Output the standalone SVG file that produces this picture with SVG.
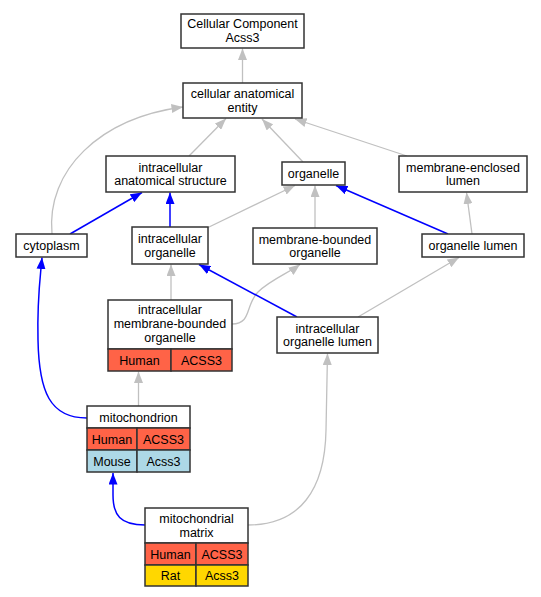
<svg xmlns="http://www.w3.org/2000/svg" width="541" height="597" viewBox="0 0 541 597">
<style>
text{font-family:"Liberation Sans",Arial,sans-serif;font-size:12.5px;text-anchor:middle;fill:#000}
.n{fill:#fff;stroke:#333;stroke-width:1.5}
.h{fill:#ff6347;stroke:#333;stroke-width:1.5}
.m{fill:#add8e6;stroke:#333;stroke-width:1.5}
.r{fill:#ffd700;stroke:#333;stroke-width:1.5}
.g{fill:none;stroke:#c0c0c0;stroke-width:1.3}
.b{fill:none;stroke:#0000ff;stroke-width:1.5}
</style>
<defs>
<marker id="ag" markerUnits="userSpaceOnUse" markerWidth="12" markerHeight="9" refX="11.5" refY="4.5" orient="auto"><path d="M0,0 L11.5,4.5 L0,9 z" fill="#c0c0c0"/></marker>
<marker id="ab" markerUnits="userSpaceOnUse" markerWidth="12" markerHeight="9" refX="11.5" refY="4.5" orient="auto"><path d="M0,0 L11.5,4.5 L0,9 z" fill="#0000ff"/></marker>
</defs>
<rect width="541" height="597" fill="#fff"/>
<g id="edges">
<path class="g" marker-end="url(#ag)" d="M242.5,83 L242.5,48.5"/>
<path class="g" marker-end="url(#ag)" d="M189,156 L226,118.5"/>
<path class="g" marker-end="url(#ag)" d="M303,162 L262,119"/>
<path class="g" marker-end="url(#ag)" d="M407,156 L295,119"/>
<path class="g" marker-end="url(#ag)" d="M52,234 C46,170 100,118 183,107"/>
<path class="b" marker-end="url(#ab)" d="M70,234 L142,192.5"/>
<path class="b" marker-end="url(#ab)" d="M170,227 L170,192.5"/>
<path class="g" marker-end="url(#ag)" d="M207,228 L295,185.5"/>
<path class="g" marker-end="url(#ag)" d="M315,228 L315,185.5"/>
<path class="b" marker-end="url(#ab)" d="M448,234 L336,185.5"/>
<path class="g" marker-end="url(#ag)" d="M472,234 L466.5,192.5"/>
<path class="g" marker-end="url(#ag)" d="M171,300 L171,264.5"/>
<path class="g" marker-end="url(#ag)" d="M232,324 C252,324 245,305 258,292 C270,280 290,272 300,264.5"/>
<path class="b" marker-end="url(#ab)" d="M297,317 L199,264.5"/>
<path class="g" marker-end="url(#ag)" d="M358,317 L459,257.5"/>
<path class="g" marker-end="url(#ag)" d="M138.5,406 L138.5,371.5"/>
<path class="b" marker-end="url(#ab)" d="M87,418 C50,418 39,392 38,340 C37,300 40,280 42,257.5"/>
<path class="b" marker-end="url(#ab)" d="M145,525 C120,525 113,515 113,495 L113,473"/>
<path class="g" marker-end="url(#ag)" d="M248,525 C300,525 325,490 326,430 L327.5,353.5"/>
</g>
<g id="node-cc"><rect class="n" x="181" y="14" width="123" height="34"/><text x="242.5" y="28">Cellular Component</text><text x="242.5" y="41.5">Acss3</text></g>
<g id="node-cae"><rect class="n" x="183" y="83" width="119" height="35"/><text x="242.5" y="98">cellular anatomical</text><text x="242.5" y="111.5">entity</text></g>
<g id="node-ias"><rect class="n" x="106" y="156" width="129" height="36"/><text x="170.5" y="171.5">intracellular</text><text x="170.5" y="185">anatomical structure</text></g>
<g id="node-cytoplasm"><rect class="n" x="16" y="234" width="71" height="23"/><text x="51.5" y="250">cytoplasm</text></g>
<g id="node-io"><rect class="n" x="132" y="227" width="76" height="37"/><text x="170" y="243">intracellular</text><text x="170" y="256.5">organelle</text></g>
<g id="node-organelle"><rect class="n" x="282" y="162" width="63" height="23"/><text x="313.5" y="178">organelle</text></g>
<g id="node-mel"><rect class="n" x="399" y="156" width="128" height="36"/><text x="463" y="171.5">membrane-enclosed</text><text x="463" y="185">lumen</text></g>
<g id="node-mbo"><rect class="n" x="253" y="228" width="124" height="36"/><text x="315" y="243.5">membrane-bounded</text><text x="315" y="257">organelle</text></g>
<g id="node-ol"><rect class="n" x="422" y="234" width="102" height="23"/><text x="473" y="250">organelle lumen</text></g>
<g id="node-imbo"><rect class="n" x="108" y="300" width="124" height="49"/><rect class="h" x="108" y="349" width="63" height="22"/><rect class="h" x="171" y="349" width="61" height="22"/><text x="170" y="314">intracellular</text><text x="170" y="328">membrane-bounded</text><text x="170" y="341.5">organelle</text><text x="139.5" y="364.5">Human</text><text x="201.5" y="364.5">ACSS3</text></g>
<g id="node-iol"><rect class="n" x="277" y="317" width="101" height="36"/><text x="327.5" y="332.5">intracellular</text><text x="327.5" y="346">organelle lumen</text></g>
<g id="node-mito"><rect class="n" x="87" y="406" width="103" height="22"/><rect class="h" x="87" y="428" width="50" height="22"/><rect class="h" x="137" y="428" width="53" height="22"/><rect class="m" x="87" y="450" width="50" height="22"/><rect class="m" x="137" y="450" width="53" height="22"/><text x="138.5" y="421.5">mitochondrion</text><text x="112" y="443.5">Human</text><text x="163.5" y="443.5">ACSS3</text><text x="112" y="465.5">Mouse</text><text x="163.5" y="465.5">Acss3</text></g>
<g id="node-mm"><rect class="n" x="145" y="508" width="103" height="35"/><rect class="h" x="145" y="543" width="51" height="22"/><rect class="h" x="196" y="543" width="52" height="22"/><rect class="r" x="145" y="565" width="51" height="21"/><rect class="r" x="196" y="565" width="52" height="21"/><text x="196.5" y="523">mitochondrial</text><text x="196.5" y="536.5">matrix</text><text x="170.5" y="558.5">Human</text><text x="222" y="558.5">ACSS3</text><text x="170.5" y="580">Rat</text><text x="222" y="580">Acss3</text></g>
</svg>
